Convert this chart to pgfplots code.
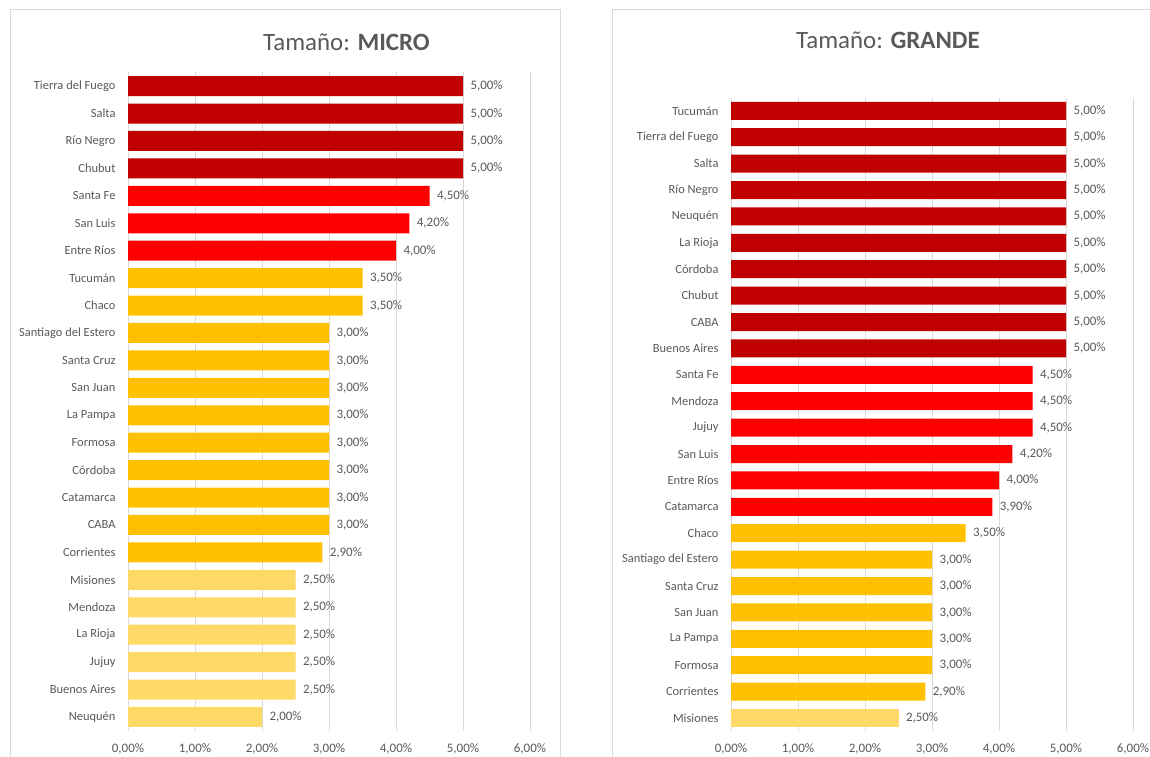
\documentclass[border=0pt]{standalone}
\usepackage{pgfplots}
\pgfplotsset{compat=1.18}
\usepackage{fontspec}
\setmainfont{Carlito}
\definecolor{dred}{HTML}{C00000}
\definecolor{bred}{HTML}{FF0000}
\definecolor{gold}{HTML}{FFC000}
\definecolor{lgold}{HTML}{FFD966}
\definecolor{txt}{HTML}{595959}
\definecolor{grd}{HTML}{D9D9D9}
\pgfplotsset{
  panel/.style={
    scale only axis,
    xbar, bar shift=0pt,
    xmin=0, xmax=6, ymin=-0.5, ymax=23.5,
    xtick={0,1,2,3,4,5,6},
    ytick={0,...,23},
    xmajorgrids, ymajorgrids=false,
    grid style={draw=grd, line width=0.8bp},
    axis line style={draw=none},
    major tick length=0pt,
    /pgf/number format/assume math mode=true,
    tick label style={font=\fontsize{12.5}{14}\selectfont, text=txt},
    xticklabel={\pgfmathprintnumber[fixed,fixed zerofill,precision=2,use comma]{\tick}\%},
    xticklabel style={yshift=-9bp, font=\fontsize{13}{15}\selectfont},
    yticklabel style={xshift=-9bp},
    point meta=x,
    nodes near coords={\pgfmathprintnumber[fixed,fixed zerofill,precision=2,use comma]{\pgfplotspointmeta}\%},
    nodes near coords style={font=\fontsize{13}{15}\selectfont, text=txt, anchor=west, xshift=4bp},
    clip=false,
  }
}
\begin{document}
\begin{tikzpicture}[x=1bp,y=1bp]
\path[use as bounding box] (0,0) rectangle (1150,-757);
\draw[grd, line width=1bp] (10,-765) -- (10,-10) -- (560,-10) -- (560,-765);
\draw[grd, line width=1bp] (612,-765) -- (612,-10) -- (1160,-10);
\node[text=txt, font=\fontsize{25}{30}\selectfont] at (346.5,-42) {Tamaño: \textbf{MICRO}};
\node[text=txt, font=\fontsize{25}{30}\selectfont] at (888,-40) {Tamaño: \textbf{GRANDE}};

\begin{axis}[panel,
  at={(128bp,-730.7bp)}, anchor=south west,
  width=402bp, height=658.3bp,
  bar width=20bp,
  yticklabels={Neuquén, Buenos Aires, Jujuy, La Rioja, Mendoza, Misiones, Corrientes, CABA, Catamarca, Córdoba, Formosa, La Pampa, San Juan, Santa Cruz, Santiago del Estero, Chaco, Tucumán, Entre Ríos, San Luis, Santa Fe, Chubut, Río Negro, Salta, Tierra del Fuego},
]
\addplot[fill=dred, draw=none] coordinates {(5,23) (5,22) (5,21) (5,20)};
\addplot[fill=bred, draw=none] coordinates {(4.5,19) (4.2,18) (4.0,17)};
\addplot[fill=gold, draw=none] coordinates {(3.5,16) (3.5,15) (3,14) (3,13) (3,12) (3,11) (3,10) (3,9) (3,8) (3,7) (2.9,6)};
\addplot[fill=lgold, draw=none] coordinates {(2.5,5) (2.5,4) (2.5,3) (2.5,2) (2.5,1) (2.0,0)};
\end{axis}

\begin{axis}[panel,
  at={(731bp,-731.2bp)}, anchor=south west,
  width=402bp, height=633.6bp,
  bar width=18bp,
  yticklabels={Misiones, Corrientes, Formosa, La Pampa, San Juan, Santa Cruz, Santiago del Estero, Chaco, Catamarca, Entre Ríos, San Luis, Jujuy, Mendoza, Santa Fe, Buenos Aires, CABA, Chubut, Córdoba, La Rioja, Neuquén, Río Negro, Salta, Tierra del Fuego, Tucumán},
]
\addplot[fill=dred, draw=none] coordinates {(5,23) (5,22) (5,21) (5,20) (5,19) (5,18) (5,17) (5,16) (5,15) (5,14)};
\addplot[fill=bred, draw=none] coordinates {(4.5,13) (4.5,12) (4.5,11) (4.2,10) (4.0,9) (3.9,8)};
\addplot[fill=gold, draw=none] coordinates {(3.5,7) (3,6) (3,5) (3,4) (3,3) (3,2) (2.9,1)};
\addplot[fill=lgold, draw=none] coordinates {(2.5,0)};
\end{axis}
\end{tikzpicture}
\end{document}
